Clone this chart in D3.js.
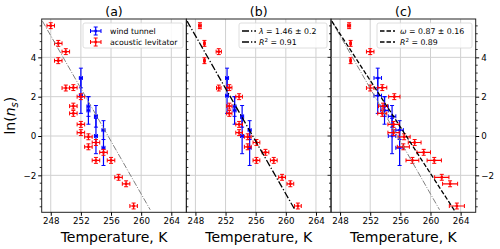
<!DOCTYPE html>
<html>
<head>
<meta charset="utf-8">
<script src="https://cdn.jsdelivr.net/npm/d3@7"></script>
<style>
  body { margin: 0; background: #fff; }
  text { font-family: "DejaVu Sans", sans-serif; fill: #000; }
</style>
</head>
<body>
<div id="chart"></div>
<script>
// acoustic levitator points, one temperature array per panel
var lnLev = [5.61, 4.71, 4.29, 3.83, 2.44, 2.46, 2.0, 1.52, 1.15, 0.59, 0.17, -0.04, -0.55, -0.33, -1.24, -0.83, -1.24, -2.1, -2.43, -3.56];
var yerrLev = 0.15;
var tLevA = [248, 249, 250, 249, 250, 251, 252, 251, 251, 252, 252, 253, 253, 254, 254, 255, 256, 257, 258, 259];
var xerrLevA = [0.5, 0.5, 0.5, 0.5, 0.5, 0.5, 0.5, 0.5, 0.5, 0.5, 0.5, 0.5, 0.5, 0.5, 0.5, 0.5, 0.5, 0.5, 0.5, 0.5];
var tLevB = [248.6, 249.2, 251.1, 249.2, 251.1, 252.5, 253.8, 252.5, 252.5, 253.8, 253.8, 254.95, 254.95, 256.1, 256.1, 257.3, 258.4, 259.5, 260.6, 261.6];
var xerrLevB = [0.18, 0.1, 0.35, 0.1, 0.3, 0.35, 0.44, 0.35, 0.35, 0.44, 0.44, 0.45, 0.45, 0.45, 0.45, 0.45, 0.45, 0.45, 0.45, 0.45];
var tLevC = [249.2, 249.4, 252.0, 249.4, 252.0, 253.6, 255.2, 253.7, 253.6, 255.1, 255.1, 256.5, 256.4, 257.9, 257.6, 259.1, 260.5, 261.5, 262.6, 263.5];
var xerrLevC = [0.2, 0.1, 0.5, 0.1, 0.5, 0.6, 0.75, 0.6, 0.6, 0.75, 0.75, 0.8, 0.8, 0.85, 0.85, 0.9, 0.95, 0.95, 1.0, 1.0];

// wind tunnel points
var lnWt = [2.95, 2.05, 1.5, 1.3, 1.0, 0.0, 0.3, -0.6];
var yerrWt = [0.5, 0.9, 0.5, 0.7, 0.55, 0.9, 0.48, 0.9];
var tWtA = [252, 252, 253, 253, 254, 254, 255, 255];
var tWtB = [252.2, 252.2, 253.2, 253.2, 254.2, 254.2, 255.2, 255.2];
var tWtC = [253.0, 253.0, 253.9, 253.9, 254.9, 254.9, 255.9, 255.9];
var xerrWtA = 0.2, xerrWtB = 0.2, xerrWtC = 0.5;

// fitted lines (end points)
var fitT = [246.9, 261.2];
var fitLn = [5.84, -3.75];
var fitCT = [246.9, 263.2];
var fitCLn = [5.84, -3.8];

var xTicks = [248, 252, 256, 260, 264];
var yTicks = [-2, 0, 2, 4];
var titles = ["(a)", "(b)", "(c)"];

var W = 500, H = 249;
var plotL = 41.7, plotR = 475.7, plotT = 19, plotB = 212.3;
var pw = (plotR - plotL) / 3;

var svg = d3.select("#chart").append("svg")
    .attr("width", W)
    .attr("height", H);

var y = d3.scaleLinear().domain([-3.88, 5.95]).range([plotB, plotT]);
var minorY = d3.range(-3.6, 5.9, 0.4).map(function (v) { return Math.round(v * 10) / 10; });

var panels = [
    { tLev: tLevA, xerrLev: xerrLevA, tWt: tWtA, xerrWt: xerrWtA },
    { tLev: tLevB, xerrLev: xerrLevB, tWt: tWtB, xerrWt: xerrWtB },
    { tLev: tLevC, xerrLev: xerrLevC, tWt: tWtC, xerrWt: xerrWtC }
];

function errPoint(g, cx, cy, x0, x1, y0, y1, color, cap) {
    g.append("line").attr("x1", x0).attr("x2", x1).attr("y1", cy).attr("y2", cy)
        .attr("stroke", color).attr("stroke-width", 1.2);
    g.append("line").attr("x1", cx).attr("x2", cx).attr("y1", y0).attr("y2", y1)
        .attr("stroke", color).attr("stroke-width", 1.2);
    [x0, x1].forEach(function (xx) {
        g.append("line").attr("x1", xx).attr("x2", xx).attr("y1", cy - cap).attr("y2", cy + cap)
            .attr("stroke", color).attr("stroke-width", 1);
    });
    [y0, y1].forEach(function (yy) {
        g.append("line").attr("x1", cx - cap).attr("x2", cx + cap).attr("y1", yy).attr("y2", yy)
            .attr("stroke", color).attr("stroke-width", 1);
    });
    g.append("rect").attr("x", cx - 1.2).attr("y", cy - 1.2).attr("width", 2.4).attr("height", 2.4)
        .attr("fill", color);
}

panels.forEach(function (p, k) {
    var x0 = plotL + k * pw;
    var x = d3.scaleLinear().domain([246.8, 266.0]).range([x0, x0 + pw]);
    var g = svg.append("g");

    svg.append("clipPath").attr("id", "clip" + k)
        .append("rect").attr("x", x0).attr("y", plotT).attr("width", pw).attr("height", plotB - plotT);

    // grid
    xTicks.forEach(function (t) {
        g.append("line").attr("x1", x(t)).attr("x2", x(t)).attr("y1", plotT).attr("y2", plotB)
            .attr("stroke", "#d0d0d0").attr("stroke-width", 1);
    });
    yTicks.forEach(function (t) {
        g.append("line").attr("x1", x0).attr("x2", x0 + pw).attr("y1", y(t)).attr("y2", y(t))
            .attr("stroke", "#d0d0d0").attr("stroke-width", 1);
    });

    var pg = g.append("g").attr("clip-path", "url(#clip" + k + ")");

    // wind tunnel
    p.tWt.forEach(function (t, i) {
        errPoint(pg, x(t), y(lnWt[i]), x(t - p.xerrWt), x(t + p.xerrWt),
            y(lnWt[i] + yerrWt[i]), y(lnWt[i] - yerrWt[i]), "#0000ff", 2);
    });
    // acoustic levitator
    p.tLev.forEach(function (t, i) {
        errPoint(pg, x(t), y(lnLev[i]), x(t - p.xerrLev[i]), x(t + p.xerrLev[i]),
            y(lnLev[i] + yerrLev), y(lnLev[i] - yerrLev), "#ff0000", 2);
    });

    var line = d3.line().x(function (d) { return x(d[0]); }).y(function (d) { return y(d[1]); });
    var ref = d3.zip(fitT, fitLn);
    if (k == 0) {
        pg.append("path").attr("d", line(ref)).attr("fill", "none")
            .attr("stroke", "#808080").attr("stroke-width", 1).attr("stroke-dasharray", "6,1.6,1,1.6");
    } else if (k == 1) {
        pg.append("path").attr("d", line(ref)).attr("fill", "none")
            .attr("stroke", "#000").attr("stroke-width", 1.3).attr("stroke-dasharray", "7,2,1.3,2");
    } else {
        pg.append("path").attr("d", line(ref)).attr("fill", "none")
            .attr("stroke", "#808080").attr("stroke-width", 1).attr("stroke-dasharray", "6,1.6,1,1.6");
        pg.append("path").attr("d", line(d3.zip(fitCT, fitCLn))).attr("fill", "none")
            .attr("stroke", "#000").attr("stroke-width", 1.3).attr("stroke-dasharray", "4.5,2");
    }

    // x axis
    var xa = svg.append("g").attr("transform", "translate(0," + plotB + ")")
        .call(d3.axisBottom(x).tickValues(xTicks).tickSize(3.5).tickPadding(2).tickFormat(d3.format("d")));
    xa.select(".domain").remove();
    xa.selectAll("text").style("font-size", "8.7px").style("font-family", "DejaVu Sans");

    // spines
    g.append("rect").attr("x", x0).attr("y", plotT).attr("width", pw).attr("height", plotB - plotT)
        .attr("fill", "none").attr("stroke", "#222").attr("stroke-width", 1);

    svg.append("text").attr("x", x0 + pw / 2).attr("y", 15.5).attr("text-anchor", "middle")
        .style("font-size", "12.5px").text(titles[k]);
    svg.append("text").attr("x", x0 + pw / 2).attr("y", 242).attr("text-anchor", "middle")
        .style("font-size", "14px").text("Temperature, K");
});

// y ticks
var fmtY = function (d) { return d < 0 ? "\u2212" + Math.abs(d) : d; };
var ya = svg.append("g").attr("transform", "translate(" + plotL + ",0)")
    .call(d3.axisLeft(y).tickValues(yTicks).tickSize(3.5).tickPadding(2).tickFormat(fmtY));
ya.select(".domain").remove();
ya.selectAll("text").style("font-size", "8.7px").style("font-family", "DejaVu Sans");
var yc = svg.append("g").attr("transform", "translate(" + plotR + ",0)")
    .call(d3.axisRight(y).tickValues(yTicks).tickSize(3.5).tickPadding(2).tickFormat(fmtY));
yc.select(".domain").remove();
yc.selectAll("text").style("font-size", "8.7px").style("font-family", "DejaVu Sans");

function minorTicks(xpos, dir) {
    minorY.forEach(function (v) {
        if (yTicks.indexOf(v) >= 0) return;
        svg.append("line").attr("x1", xpos).attr("x2", xpos + dir * 2).attr("y1", y(v)).attr("y2", y(v))
            .attr("stroke", "#000").attr("stroke-width", 0.8);
    });
}
minorTicks(plotL, -1);
minorTicks(plotR, 1);
// inner ticks of middle panel
[plotL + pw, plotL + 2 * pw].forEach(function (xp, j) {
    var dir = j == 0 ? 1 : -1;
    yTicks.forEach(function (v) {
        svg.append("line").attr("x1", xp).attr("x2", xp + dir * 3.5).attr("y1", y(v)).attr("y2", y(v))
            .attr("stroke", "#000").attr("stroke-width", 0.8);
    });
    minorTicks(xp, dir);
});

// y label
var yl = svg.append("text").attr("transform", "translate(15," + ((plotT + plotB) / 2) + ") rotate(-90)")
    .attr("text-anchor", "middle").style("font-size", "14px");
yl.append("tspan").text("ln(");
yl.append("tspan").style("font-style", "italic").text("n");
yl.append("tspan").style("font-style", "italic").style("font-size", "10px").attr("dy", 3).text("s");
yl.append("tspan").attr("dy", -3).text(")");

// legends
function legendBox(x0, w) {
    svg.append("rect").attr("x", x0).attr("y", 23).attr("width", w).attr("height", 25)
        .attr("rx", 2).attr("fill", "#fff").attr("fill-opacity", 0.85)
        .attr("stroke", "#d6d6d6").attr("stroke-width", 0.8);
}
legendBox(83, 100);
var lg = svg.append("g");
errPoint(lg, 95.7, 31, 90.5, 101, 27, 35, "#0000ff", 2);
errPoint(lg, 95.7, 42, 90.5, 101, 38, 46, "#ff0000", 2);
svg.append("text").attr("x", 110).attr("y", 33.8).style("font-size", "7.8px").text("wind tunnel");
svg.append("text").attr("x", 110).attr("y", 44.8).style("font-size", "7.8px").text("acoustic levitator");

function statText(xp, yp, sym, val) {
    var t = svg.append("text").attr("x", xp).attr("y", yp).style("font-size", "7.8px");
    t.append("tspan").style("font-style", "italic").text(sym);
    if (sym == "R") {
        t.append("tspan").style("font-size", "5.5px").attr("dy", -3).text("2");
        t.append("tspan").attr("dy", 3).text(" = " + val);
    } else {
        t.append("tspan").text(" = " + val);
    }
}
legendBox(239, 88);
[31, 42].forEach(function (yy) {
    svg.append("line").attr("x1", 242).attr("x2", 256).attr("y1", yy).attr("y2", yy)
        .attr("stroke", "#000").attr("stroke-width", 1.3).attr("stroke-dasharray", "7,2,1.3,2");
});
statText(259, 33.8, "\u03bb", "1.46 \u00b1 0.2");
statText(259, 44.8, "R", "0.91");

legendBox(377, 95);
[31, 42].forEach(function (yy) {
    svg.append("line").attr("x1", 380).attr("x2", 395).attr("y1", yy).attr("y2", yy)
        .attr("stroke", "#000").attr("stroke-width", 1.3).attr("stroke-dasharray", "4.5,2");
});
statText(400, 33.8, "\u03c9", "0.87 \u00b1 0.16");
statText(400, 44.8, "R", "0.89");
</script>
</body>
</html>
